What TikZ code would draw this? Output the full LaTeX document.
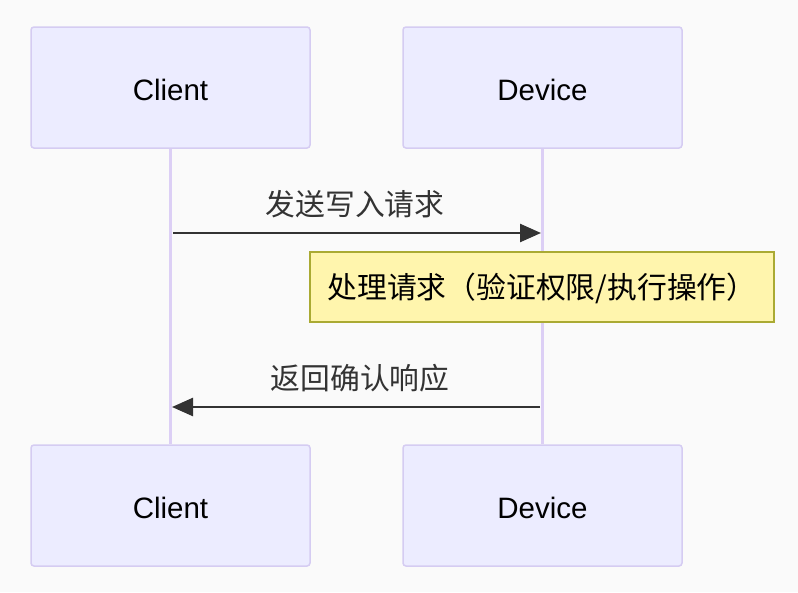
\documentclass[tikz,border=0pt]{standalone}
\usepackage{fontspec}
\setmainfont{Liberation Sans}
\newfontfamily\cjk{Noto Sans CJK SC}
\usetikzlibrary{arrows.meta}
\definecolor{bg}{HTML}{FAFAFA}
\definecolor{actfill}{HTML}{ECECFF}
\definecolor{actdraw}{HTML}{D5CCF2}
\definecolor{lifec}{HTML}{DCCFF5}
\definecolor{notefill}{HTML}{FFF5AD}
\definecolor{notedraw}{HTML}{AAAA33}
\definecolor{msgc}{HTML}{333333}
\tikzset{
  actor/.style={draw=actdraw, fill=actfill, line width=1.5pt, rounded corners=3pt,
    minimum width=279pt, minimum height=121pt, inner sep=0pt,
    font=\fontsize{29.5}{34}\selectfont, text=black},
  actortext/.style={font=\fontsize{29.5}{34}\selectfont, text=black, inner sep=0pt},
  lifeline/.style={draw=lifec, line width=3pt},
  msg/.style={draw=msgc, line width=2.5pt, -{Triangle[length=21pt,width=18pt]}},
  msglabel/.style={font=\fontsize{29.8}{34}\selectfont\cjk, text=msgc, inner sep=0pt},
  notebox/.style={draw=notedraw, fill=notefill, line width=1.5pt,
    minimum width=464pt, minimum height=70pt, inner sep=0pt},
  notetext/.style={font=\fontsize{29.8}{34}\selectfont\cjk, text=black, inner sep=0pt}
}
\begin{document}
\begin{tikzpicture}[x=1pt,y=-1pt]
\useasboundingbox[fill=bg] (0,0) rectangle (798,592);
\node[actor] (ct) at (170.5,87.5) {};
\node[actor] (dt) at (542.5,87.5) {};
\node[actor] (cb) at (170.5,505.5) {};
\node[actor] (db) at (542.5,505.5) {};
\node[actortext] (ctt) at (170.5,89.5) {Client};
\node[actortext] (dtt) at (542.5,89.5) {Device};
\node[actortext] (cbt) at (170.5,507.5) {Client};
\node[actortext] (dbt) at (542.5,507.5) {Device};
\draw[lifeline] (ct.south) -- (cb.north);
\draw[lifeline] (dt.south) -- (db.north);
\coordinate (m1s) at (173,233);
\coordinate (m1e) at (541,233);
\coordinate (m2s) at (540,407);
\coordinate (m2e) at (172,407);
\draw[msg] (m1s) -- (m1e);
\draw[msg] (m2s) -- (m2e);
\node[msglabel] (l1) at (355,204) {发送写入请求};
\node[msglabel] (l2) at (360,378) {返回确认响应};
\node[notebox] (note) at (542,287) {};
\node[notetext] (nt) at (542,288) {处理请求（验证权限/执行操作）};
\end{tikzpicture}
\end{document}
